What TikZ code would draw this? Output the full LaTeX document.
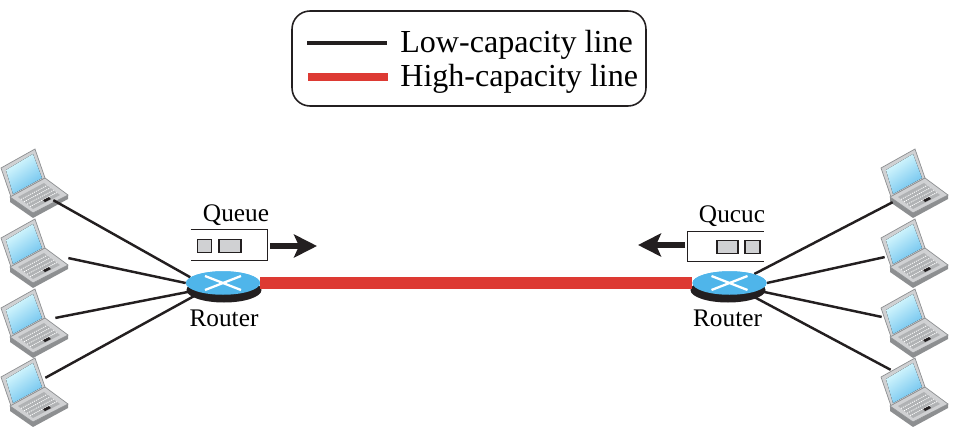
\documentclass[tikz,border=0pt]{standalone}
\usepackage{fontspec}
\setmainfont{Liberation Serif}
\usetikzlibrary{shapes.geometric,arrows.meta,positioning,calc}
\definecolor{linered}{HTML}{DD3A33}
\definecolor{routerblue}{HTML}{4FB5EA}
\definecolor{inkblack}{HTML}{231F20}
\definecolor{caseside}{HTML}{B0B2B4}
\definecolor{caselight}{HTML}{D0D1D3}
\definecolor{casedark}{HTML}{8D8F91}
\tikzset{laptop/.pic={
  \fill[caselight, draw=casedark, line width=0.4pt] (1,20) -- (35,1) -- (45,30) -- (11,49) -- cycle;
  \fill[left color=blue!8!cyan!12, right color=routerblue!85!white, shading angle=35] (6,22) -- (33,6) -- (42,30) -- (13,46) -- cycle;
  \fill[casedark] (10,49) -- (10,54) -- (33,70) -- (68,51) -- (68,47) -- (33,65) -- cycle;
  \fill[caselight, draw=casedark, line width=0.4pt] (10,49) -- (45,30) -- (68,47) -- (33,65) -- cycle;
  \fill[caseside] (18,49) -- (44,35) -- (60,47) -- (33,61) -- cycle;
  \foreach \t in {0.2,0.4,0.6,0.8}
    \draw[white, line width=0.5pt, dash pattern=on 0.6pt off 0.6pt] ($(18,49)!\t!(33,61)$) -- ($(44,35)!\t!(60,47)$);
  \fill[inkblack] (43,52) -- (49,49) -- (51,51) -- (45,54) -- cycle;
}}
\begin{document}
\begin{tikzpicture}[x=0.02cm, y=-0.02cm]
\tikzstyle{legendbox} = [draw=inkblack, line width=0.9pt, rounded corners=0.36cm, minimum width=7.08cm, minimum height=1.9cm]
\tikzstyle{legendtext} = [font=\fontsize{18.25}{20}\selectfont, anchor=base west, inner sep=0pt]
\tikzstyle{lowline} = [draw=inkblack, line width=1.4pt]
\tikzstyle{highline} = [draw=linered, line width=0.24cm, yshift=-0.02cm]
\tikzstyle{router} = [ellipse, fill=routerblue, inner sep=0pt, minimum width=1.48cm, minimum height=0.47cm]
\tikzstyle{routershadow} = [ellipse, fill=inkblack, inner sep=0pt, minimum width=1.5cm, minimum height=0.5cm]
\tikzstyle{routerlabel} = [font=\fontsize{14.4}{16}\selectfont, anchor=base, inner sep=0pt]
\tikzstyle{port} = [inner sep=0pt, minimum size=0pt]
\tikzstyle{queuebox} = [inner sep=0pt, minimum width=1.52cm, minimum height=0.6cm]
\tikzstyle{packet} = [draw=inkblack, fill=caselight, line width=0.8pt, inner sep=0pt, minimum height=0.27cm]
\tikzstyle{sendarrow} = [draw=inkblack, line width=0.12cm, -{Stealth[length=0.46cm, width=0.46cm, inset=0.1cm]}]

\useasboundingbox (0,0) rectangle (956,426);

\node [legendbox] (legend) at (469,58.5) {};
\coordinate (lowa) at (307,43);
\coordinate (lowb) at (387,43);
\coordinate (higha) at (308,77);
\coordinate (highb) at (388,77);
\draw [lowline, line width=1.8pt] (lowa) -- (lowb);
\draw [draw=linered, line width=0.16cm] (higha) -- (highb);
\node [legendtext] (lowtext) at (400,52) {Low-capacity line};
\node [legendtext] (hightext) at (400,86) {High-capacity line};

\foreach \name/\xpos/\ypos in {lapa/0/148, lapb/0/218, lapc/0/288, lapd/0/357, lape/880/148, lapf/880/218, lapg/880/288, laph/880/357}
  \pic (\name) at (\xpos,\ypos) {laptop};

\node [router] (routerL) at (223,283) {};
\node [router] (routerR) at (729.5,283) {};

\node [port] (lapA) at (53,200) {};
\node [port] (lapB) at (68,258) {};
\node [port] (lapC) at (55,318) {};
\node [port] (lapD) at (45,378) {};
\node [port] (lapE) at (893,202) {};
\node [port] (lapF) at (885,257) {};
\node [port] (lapG) at (882,317) {};
\node [port] (lapH) at (891,370) {};

\path [lowline] (lapA) -- (routerL.170);
\path [lowline] (lapB) -- (routerL.180);
\path [lowline] (lapC) -- (routerL.195);
\path [lowline] (lapD) -- (routerL.203);
\path [lowline] (lapE) -- (routerR.20);
\path [lowline] (lapF) -- (routerR.0);
\path [lowline] (lapG) -- (routerR.-15);
\path [lowline] (lapH) -- (routerR.-30);

\node [routershadow] (shadowL) at (224,290) {};
\node [routershadow] (shadowR) at (728,290) {};
\node [router] at (routerL) {};
\node [router] at (routerR) {};
\path [highline] (routerL.east) -- (routerR.west);
\draw [white, line width=1.3pt] (routerL.center) ++(-18,-7) -- ++(36,14) ++(0,-14) -- ++(-36,14);
\draw [white, line width=1.3pt] (routerR.center) ++(-18,-7) -- ++(36,14) ++(0,-14) -- ++(-36,14);
\node [routerlabel] (labelL) at (224,326.7) {Router};
\node [routerlabel] (labelR) at (727.5,326.7) {Router};

\node [queuebox] (queueL) at (229,245) {};
\draw [inkblack, line width=0.7pt] (queueL.north west) -- (queueL.north east) -- (queueL.south east) -- (queueL.south west);
\node [queuebox] (queueR) at (725.5,246.5) {};
\draw [inkblack, line width=0.7pt] (queueR.north east) -- (queueR.north west) -- (queueR.south west) -- (queueR.south east);
\node [packet, minimum width=0.28cm] (packetA) at (204.5,246) {};
\node [packet, minimum width=0.44cm] (packetB) at (230,246) {};
\node [packet, minimum width=0.42cm] (packetC) at (727.5,247) {};
\node [packet, minimum width=0.3cm] (packetD) at (752.5,247) {};
\node [routerlabel] (queuetextL) at (236,221) {Queue};
\node [routerlabel] (queuetextR) at (732,222.7) {Qucuc};

\coordinate (sendL) at (317,246);
\coordinate (sendR) at (638,245);
\coordinate (tailL) at (270,246);
\coordinate (tailR) at (685,245);
\path [sendarrow] (tailL) -- (sendL);
\path [sendarrow] (tailR) -- (sendR);

\end{tikzpicture}
\end{document}
